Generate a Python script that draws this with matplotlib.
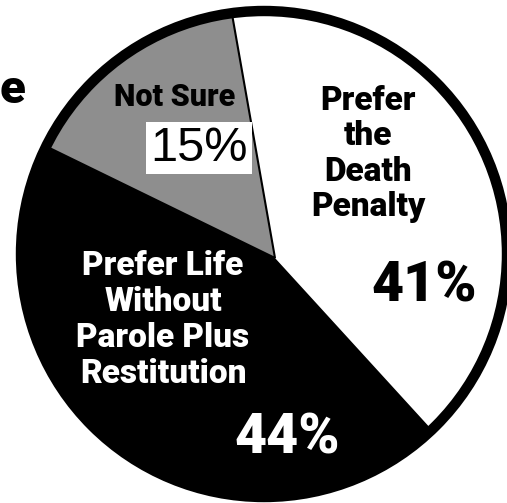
import matplotlib.pyplot as plt
from matplotlib.patches import Circle

# slices, clockwise from the top
labels = ["Prefer\nthe\nDeath\nPenalty", "Prefer Life\nWithout\nParole Plus\nRestitution", "Not Sure"]
shares = [41, 44, 15]
pct_text = ["41%", "44%", "15%"]
colors = ["white", "black", "#8e8e8e"]

W, H = 507, 503
COND = ["Roboto", "DejaVu Sans"]
PLAIN = ["Liberation Sans", "DejaVu Sans"]


def py(y):
    # picture rows run downwards, data y runs upwards
    return H - y


fig = plt.figure(figsize=(W / 100, H / 100), dpi=100)
ax = fig.add_axes([0, 0, 1, 1])

clip = Circle((264, py(254)), 243, transform=ax.transData)
wedges, _ = ax.pie(shares, colors=colors, startangle=100, counterclock=False,
                   center=(275, py(258)), radius=330,
                   wedgeprops=dict(linewidth=0))
for w in wedges:
    w.set_clip_on(True)
    w.set_clip_path(clip)
wedges[2].set_edgecolor("black")
wedges[2].set_linewidth(1.5)

ax.add_patch(Circle((264, py(254)), 243, facecolor="none",
                    edgecolor="black", lw=7.5, zorder=3))

# slice labels
ax.text(368, py(154), labels[0], ha="center", va="center", fontsize=24,
        fontweight="heavy", family=COND, linespacing=1.13, color="black")
ax.text(424, py(286), pct_text[0], ha="center", va="center", fontsize=40,
        fontweight="heavy", family=COND, color="black")

ax.text(163, py(320), labels[1], ha="center", va="center", fontsize=24,
        fontweight="heavy", family=COND, linespacing=1.15, color="white")
ax.text(287, py(438), pct_text[1], ha="center", va="center", fontsize=40,
        fontweight="heavy", family=COND, color="white")

ax.text(175, py(97), labels[2], ha="center", va="center", fontsize=22,
        fontweight="heavy", family=COND, color="black")
ax.text(199, py(148), pct_text[2], ha="center", va="center", fontsize=35,
        family=PLAIN, color="black",
        bbox=dict(boxstyle="square,pad=0.08", fc="white", ec="none"))

# leftover of a cut-off heading
ax.text(0, py(90), "e", ha="left", va="center", fontsize=34,
        fontweight="heavy", family=COND, color="black")

ax.set_xlim(0, W)
ax.set_ylim(0, H)
ax.set_aspect("equal")
ax.axis("off")

plt.savefig("out.png", dpi=100)
